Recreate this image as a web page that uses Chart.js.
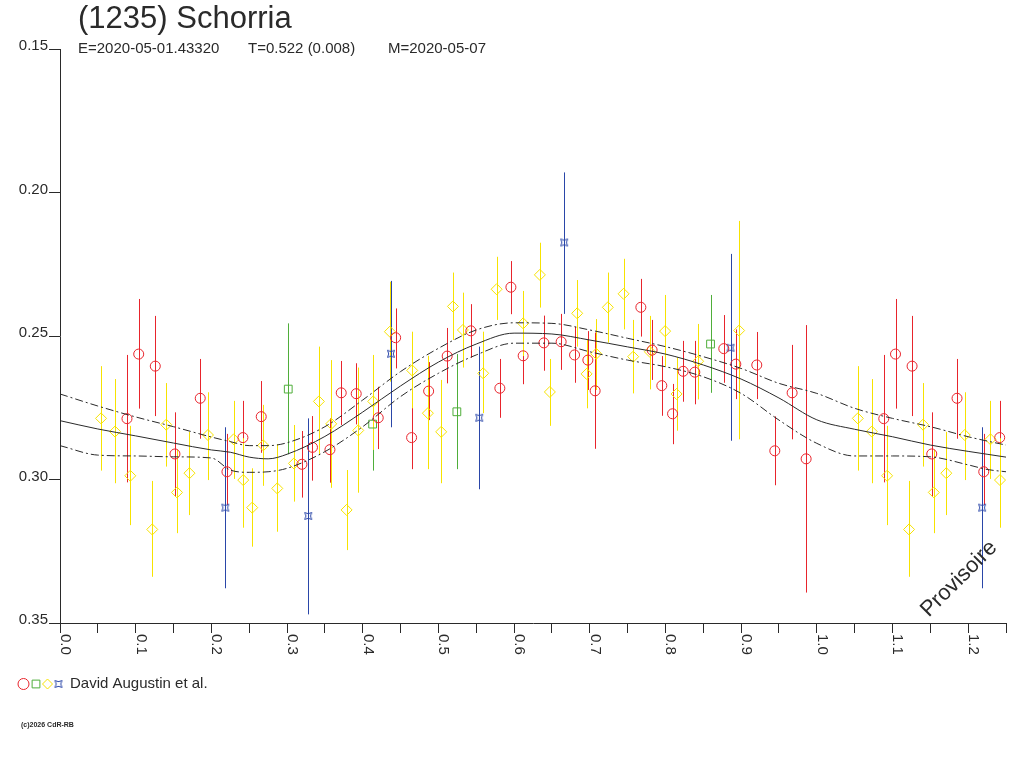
<!DOCTYPE html>
<html>
<head>
<meta charset="utf-8">
<title>(1235) Schorria</title>
<script src="https://cdn.jsdelivr.net/npm/chart.js@4.4.1/dist/chart.umd.min.js"></script>
<style>
  html, body { margin: 0; padding: 0; background: #fff; }
  #wrap { width: 1024px; height: 768px; }
</style>
</head>
<body>
<div id="wrap"><canvas id="lc" width="1024" height="768"></canvas></div>
<script>
// ---------- Data (phase, magnitude, bar top, bar bottom) ----------
const redObs = [
  [0.0885,0.2788,0.2566,0.3010],[0.1040,0.2563,0.2371,0.2753],[0.1259,0.2605,0.2430,0.2779],
  [0.1519,0.2911,0.2766,0.3060],[0.1853,0.2717,0.2580,0.2858],[0.2206,0.2973,0.2841,0.3089],
  [0.2417,0.2854,0.2726,0.2990],[0.2659,0.2781,0.2657,0.2907],[0.3197,0.2947,0.2831,0.3063],
  [0.3336,0.2888,0.2779,0.3004],[0.3567,0.2896,0.2787,0.3011],[0.3716,0.2698,0.2587,0.2810],
  [0.3914,0.2701,0.2595,0.2808],[0.4205,0.2785,0.2677,0.2894],[0.4435,0.2506,0.2404,0.2613],
  [0.4646,0.2854,0.2743,0.2964],[0.4871,0.2692,0.2591,0.2793],[0.5116,0.2570,0.2472,0.2665],
  [0.5429,0.2482,0.2389,0.2576],[0.5812,0.2682,0.2580,0.2785],[0.5958,0.2330,0.2239,0.2424],
  [0.6120,0.2569,0.2479,0.2668],[0.6394,0.2524,0.2429,0.2621],[0.6622,0.2520,0.2423,0.2618],
  [0.6799,0.2566,0.2468,0.2663],[0.6975,0.2584,0.2483,0.2688],[0.7071,0.2691,0.2488,0.2893],
  [0.7675,0.2400,0.2301,0.2502],[0.7824,0.2549,0.2444,0.2653],[0.7952,0.2673,0.2570,0.2778],
  [0.8094,0.2771,0.2667,0.2877],[0.8234,0.2623,0.2517,0.2729],[0.8388,0.2626,0.2517,0.2738],
  [0.8771,0.2544,0.2427,0.2663],[0.8930,0.2598,0.2477,0.2720],[0.9207,0.2601,0.2486,0.2720],
  [0.9445,0.2900,0.2780,0.3020],[0.9674,0.2698,0.2531,0.2860],[0.9859,0.2928,0.2462,0.3394]
];
const greenObs = [
  [0.3016,0.2685,0.2456,0.2912],[0.4131,0.2807,0.2643,0.2969],
  [0.5244,0.2764,0.2563,0.2964],[0.8596,0.2528,0.2357,0.2698]
];
const yellowObs = [
  [0.0542,0.2787,0.2605,0.2969],[0.0727,0.2833,0.2650,0.3013],[0.0929,0.2987,0.2813,0.3159],
  [0.1219,0.3174,0.3005,0.3339],[0.1404,0.2809,0.2664,0.2955],[0.1546,0.3045,0.2897,0.3187],
  [0.1711,0.2978,0.2834,0.3124],[0.1955,0.2845,0.2696,0.3002],[0.2295,0.2860,0.2726,0.2998],
  [0.2421,0.3002,0.2856,0.3168],[0.2540,0.3098,0.2961,0.3234],[0.2686,0.2881,0.2740,0.3022],
  [0.2871,0.3031,0.2877,0.3182],[0.3091,0.2944,0.2810,0.3077],[0.3421,0.2728,0.2537,0.2915],
  [0.3584,0.2806,0.2584,0.3029],[0.3787,0.3106,0.2967,0.3246],[0.3941,0.2829,0.2610,0.3046],
  [0.4139,0.2728,0.2566,0.2897],[0.4359,0.2485,0.2311,0.2659],[0.4654,0.2620,0.2485,0.2752],
  [0.4861,0.2769,0.2569,0.2964],[0.5037,0.2834,0.2653,0.3013],[0.5192,0.2397,0.2279,0.2514],
  [0.5324,0.2479,0.2349,0.2610],[0.5592,0.2630,0.2485,0.2769],[0.5769,0.2337,0.2224,0.2444],
  [0.6120,0.2456,0.2343,0.2570],[0.6341,0.2287,0.2175,0.2401],[0.6473,0.2695,0.2580,0.2813],
  [0.6834,0.2421,0.2305,0.2537],[0.6958,0.2632,0.2514,0.2752],[0.7085,0.2562,0.2441,0.2688],
  [0.7239,0.2400,0.2279,0.2523],[0.7447,0.2353,0.2231,0.2477],[0.7574,0.2572,0.2444,0.2700],
  [0.7794,0.2555,0.2430,0.2686],[0.7996,0.2483,0.2357,0.2607],[0.8147,0.2702,0.2574,0.2830],
  [0.8432,0.2588,0.2458,0.2721],[0.8974,0.2481,0.2099,0.2860]
];
const blueObs = [
  [0.2184,0.3098,0.2818,0.3379],[0.3280,0.3127,0.2787,0.3470],[0.4373,0.2562,0.2308,0.2818],
  [0.5539,0.2785,0.2537,0.3034],[0.6662,0.2174,0.1930,0.2423],[0.8860,0.2541,0.2214,0.2865]
];

// fitted light curve and its envelope, read at these phases
const fitPhase = [0.00,0.05,0.10,0.15,0.20,0.225,0.25,0.275,0.30,0.35,0.40,0.45,0.50,0.55,0.60,0.65,
                  0.70,0.75,0.80,0.85,0.90,0.95,1.00,1.05,1.10,1.15,1.20,1.225,1.25];
const fitMid   = [0.2795,0.2824,0.2848,0.2873,0.2897,0.2905,0.2922,0.2928,0.2912,0.2850,0.2765,0.2674,
                  0.2591,0.2528,0.2490,0.2493,0.2514,0.2538,0.2563,0.2601,0.2650,0.2716,0.2792,0.2825,
                  0.2851,0.2880,0.2902,0.2912,0.2922];
const fitUpper = [0.2702,0.2744,0.2782,0.2816,0.2852,0.2868,0.2882,0.2882,0.2872,0.2816,0.2723,0.2624,
                  0.2543,0.2479,0.2454,0.2456,0.2479,0.2508,0.2537,0.2572,0.2613,0.2665,0.2700,0.2752,
                  0.2787,0.2816,0.2851,0.2866,0.2880];
const fitLower = [0.2882,0.2915,0.2918,0.2921,0.2925,0.2967,0.2975,0.2973,0.2961,0.2903,0.2816,0.2711,
                  0.2630,0.2566,0.2525,0.2525,0.2555,0.2584,0.2607,0.2642,0.2700,0.2793,0.2874,0.2918,
                  0.2918,0.2921,0.2949,0.2965,0.2973];

const xTicks = [0,0.05,0.1,0.15,0.2,0.25,0.3,0.35,0.4,0.45,0.5,0.55,0.6,0.65,0.7,0.75,
                0.8,0.85,0.9,0.95,1.0,1.05,1.1,1.15,1.2,1.25];
const xLabels = ['0.0','0.1','0.2','0.3','0.4','0.5','0.6','0.7','0.8','0.9','1.0','1.1','1.2'];
const yTicks = [0.15,0.20,0.25,0.30,0.35];
const yLabels = ['0.15','0.20','0.25','0.30','0.35'];

const PHASE_MAX = 1.25;
const RED = '#e8242c', GREEN = '#4fae3a', YELLOW = '#f7e300', BLUE = '#2a46a8', INK = '#2a2a2a';
const FONT = '"Liberation Sans", Arial, sans-serif';

// ---------- Helpers ----------
// observations are plotted once more one full phase later, as long as they stay on the axis
function toPoints(obs) {
  const pts = [];
  obs.forEach(o => pts.push({ x: o[0], y: o[1], top: o[2], bot: o[3] }));
  obs.forEach(o => { if (o[0] + 1 <= PHASE_MAX) pts.push({ x: o[0] + 1, y: o[1], top: o[2], bot: o[3] }); });
  return pts;
}
function curve(vals) { return fitPhase.map((p, i) => ({ x: p, y: vals[i] })); }

function blueMark() {
  const c = document.createElement('canvas');
  c.width = 10; c.height = 10;
  const g = c.getContext('2d');
  g.strokeStyle = BLUE; g.lineWidth = 1;
  g.beginPath();
  g.moveTo(1.5, 1.5);
  g.quadraticCurveTo(5, 4, 8.5, 1.5);
  g.quadraticCurveTo(6, 5, 8.5, 8.5);
  g.quadraticCurveTo(5, 6, 1.5, 8.5);
  g.quadraticCurveTo(4, 5, 1.5, 1.5);
  g.stroke();
  return c;
}
const blueImg = blueMark();

// ---------- Plugins ----------
const errorBars = {
  id: 'errorBars',
  beforeDatasetsDraw(chart) {
    const { ctx, scales: { x, y } } = chart;
    chart.data.datasets.forEach(ds => {
      if (!ds.barColor) return;
      ctx.save();
      ctx.strokeStyle = ds.barColor;
      ctx.lineWidth = 1;
      ds.data.forEach(p => {
        const px = Math.round(x.getPixelForValue(p.x)) + 0.5;
        ctx.beginPath();
        ctx.moveTo(px, y.getPixelForValue(p.top));
        ctx.lineTo(px, y.getPixelForValue(p.bot));
        ctx.stroke();
      });
      ctx.restore();
    });
  }
};

const decorations = {
  id: 'decorations',
  afterDraw(chart) {
    const { ctx, scales: { x, y } } = chart;
    ctx.save();
    ctx.fillStyle = INK;

    // title + ephemeris line
    ctx.textAlign = 'left';
    ctx.textBaseline = 'alphabetic';
    ctx.font = '31px ' + FONT;
    ctx.fillText('(1235) Schorria', 78, 28);
    ctx.font = '15px ' + FONT;
    ctx.fillText('E=2020-05-01.43320', 78, 53);
    ctx.fillText('T=0.522 (0.008)', 248, 53);
    ctx.fillText('M=2020-05-07', 388, 53);

    // y tick labels, sitting on the tick
    ctx.font = '15px ' + FONT;
    ctx.textAlign = 'right';
    yTicks.forEach((v, i) => ctx.fillText(yLabels[i], 48, Math.round(y.getPixelForValue(v)) + 1));

    // x tick labels, turned a quarter clockwise
    ctx.textAlign = 'left';
    xLabels.forEach((lab, i) => {
      const px = Math.round(x.getPixelForValue(xTicks[i * 2]));
      ctx.save();
      ctx.translate(px + 1, 634);
      ctx.rotate(Math.PI / 2);
      ctx.fillText(lab, 0, 0);
      ctx.restore();
    });

    // stamp
    ctx.save();
    ctx.translate(959, 579);
    ctx.rotate(-Math.PI / 4);
    ctx.textAlign = 'center';
    ctx.textBaseline = 'middle';
    ctx.font = '22px ' + FONT;
    ctx.fillText('Provisoire', 0, 0);
    ctx.restore();

    // legend
    const H = Chart.helpers;
    const marks = [
      { style: 'circle', r: 5.5, color: RED, x: 23.5 },
      { style: 'rect', r: 5.5, color: GREEN, x: 36 },
      { style: 'rectRot', r: 5, color: YELLOW, x: 47.5 },
      { style: blueImg, r: 5, color: BLUE, x: 58.5 }
    ];
    marks.forEach(m => {
      ctx.save();
      ctx.strokeStyle = m.color;
      ctx.fillStyle = 'rgba(0,0,0,0)';
      ctx.lineWidth = 1;
      if (H && H.drawPoint) H.drawPoint(ctx, { pointStyle: m.style, radius: m.r, rotation: 0, borderWidth: 1 }, m.x, 684);
      ctx.restore();
    });
    ctx.fillStyle = INK;
    ctx.textAlign = 'left';
    ctx.textBaseline = 'alphabetic';
    ctx.font = '15px ' + FONT;
    ctx.fillText('David Augustin et al.', 70, 688);

    ctx.font = 'bold 7px ' + FONT;
    ctx.fillText('(c)2026 CdR-RB', 21, 727);
    ctx.restore();
  }
};

// ---------- Chart ----------
function obsSet(label, obs, style, color, radius) {
  return {
    type: 'scatter', label, data: toPoints(obs), barColor: color,
    pointStyle: style, pointRadius: radius, pointHoverRadius: radius,
    borderColor: color, backgroundColor: 'rgba(0,0,0,0)', pointBorderWidth: 1, order: 2
  };
}
function lineSet(label, vals, dash) {
  return {
    type: 'line', label, data: curve(vals), borderColor: INK, borderWidth: 1,
    borderDash: dash, pointRadius: 0, cubicInterpolationMode: 'monotone', fill: false, order: 1
  };
}

new Chart(document.getElementById('lc'), {
  data: {
    datasets: [
      lineSet('fit', fitMid, []),
      lineSet('fit +', fitUpper, [8, 3, 2, 3]),
      lineSet('fit -', fitLower, [8, 3, 2, 3]),
      obsSet('red', redObs, 'circle', RED, 5),
      obsSet('green', greenObs, 'rect', GREEN, 5.5),
      obsSet('yellow', yellowObs, 'rectRot', YELLOW, 5.5),
      obsSet('blue', blueObs, blueImg, BLUE, 5)
    ]
  },
  options: {
    responsive: false,
    animation: false,
    devicePixelRatio: 1,
    layout: { padding: { top: 49, right: 18, left: 0, bottom: 0 } },
    plugins: { legend: { display: false }, tooltip: { enabled: false } },
    scales: {
      x: {
        type: 'linear', min: 0, max: PHASE_MAX,
        afterBuildTicks(s) { s.ticks = xTicks.map(v => ({ value: v })); },
        afterFit(s) { s.height = 145; },
        ticks: { display: false },
        grid: { drawOnChartArea: false, drawTicks: true, tickLength: 10, color: INK, lineWidth: 1 },
        border: { display: true, color: INK, width: 1 }
      },
      y: {
        type: 'linear', reverse: true, min: 0.15, max: 0.35,
        afterBuildTicks(s) { s.ticks = yTicks.map(v => ({ value: v })); },
        afterFit(s) { s.width = 60; },
        ticks: { display: false },
        grid: { drawOnChartArea: false, drawTicks: true, tickLength: 11, color: INK, lineWidth: 1 },
        border: { display: true, color: INK, width: 1 }
      }
    }
  },
  plugins: [errorBars, decorations]
});
</script>
</body>
</html>
